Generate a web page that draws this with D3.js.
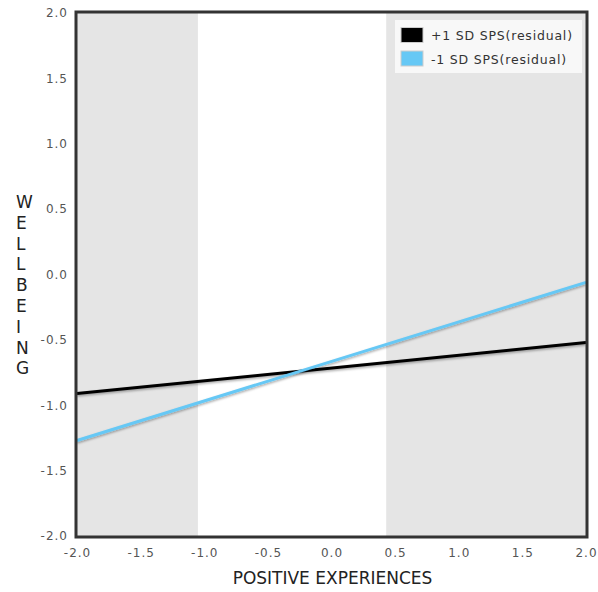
<!DOCTYPE html>
<html>
<head>
<meta charset="utf-8">
<script src="https://cdn.jsdelivr.net/npm/d3@7"></script>
<style>
  body { margin: 0; background: #fff; }
  svg { display: block; font-family: "DejaVu Sans", Verdana, sans-serif; }
</style>
</head>
<body>
<svg id="chart" width="598" height="592"></svg>
<script>
// Simple slopes of wellbeing on positive experiences at +/-1 SD of SPS
const xTicks = [-2.0, -1.5, -1.0, -0.5, 0.0, 0.5, 1.0, 1.5, 2.0];
const yTicks = [-2.0, -1.5, -1.0, -0.5, 0.0, 0.5, 1.0, 1.5, 2.0];
const seriesNames = ["+1 SD SPS(residual)", "-1 SD SPS(residual)"];
const seriesColors = ["#000000", "#66c8f5"];
const xEnds = [-2.0, 2.0];
const highSPS = [-0.91, -0.52];
const lowSPS = [-1.27, -0.06];
// Regions of significance (Johnson-Neyman)
const regions = [[-2.0, -1.05], [0.43, 2.0]];
const xTitle = "POSITIVE EXPERIENCES";
const yTitle = "WELLBEING";

const svg = d3.select("#chart");
const x = d3.scaleLinear().domain([-2, 2]).range([77, 586]);
const y = d3.scaleLinear().domain([-2, 2]).range([536, 13]);
// one decimal, plain hyphen for negatives
const fmt = d => d3.format(".1f")(d).replace("\u2212", "-");

const defs = svg.append("defs");
const f = defs.append("filter").attr("id", "shadow")
  .attr("x", "-5%").attr("y", "-50%").attr("width", "110%").attr("height", "200%");
f.append("feDropShadow").attr("dx", 0).attr("dy", 1.5).attr("stdDeviation", 1)
  .attr("flood-color", "#000").attr("flood-opacity", 0.35);

// shaded regions
svg.append("g").selectAll("rect").data(regions).join("rect")
  .attr("x", d => x(d[0]))
  .attr("width", d => x(d[1]) - x(d[0]))
  .attr("y", y(2))
  .attr("height", y(-2) - y(2))
  .attr("fill", "#e5e5e5");

// lines
const lineGen = d3.line().x(d => x(d[0])).y(d => y(d[1]));
const series = [highSPS, lowSPS];
svg.append("g").selectAll("path").data(series).join("path")
  .attr("d", d => lineGen(xEnds.map((xv, i) => [xv, d[i]])))
  .attr("fill", "none")
  .attr("stroke", (d, i) => seriesColors[i])
  .attr("stroke-width", 3)
  .attr("filter", "url(#shadow)");

// frame
svg.append("rect")
  .attr("x", x(-2) - 1).attr("y", y(2) - 1)
  .attr("width", x(2) - x(-2) + 2).attr("height", y(-2) - y(2) + 2)
  .attr("fill", "none").attr("stroke", "#333").attr("stroke-width", 3);

// axes (labels only)
const styleTicks = g => g.selectAll("text").attr("fill", "#555")
  .style("font-size", "12px")
  .style("font-family", "DejaVu Sans, Verdana, sans-serif")
  .style("letter-spacing", "1px");

const xAxis = d3.axisBottom(x).tickValues(xTicks).tickFormat(fmt).tickSize(0).tickPadding(12);
const gx = svg.append("g").attr("transform", `translate(0,${y(-2)})`).call(xAxis);
gx.select(".domain").remove();
styleTicks(gx);

const yAxis = d3.axisLeft(y).tickValues(yTicks).tickFormat(fmt).tickSize(0).tickPadding(9);
const gy = svg.append("g").attr("transform", `translate(${x(-2)},0)`).call(yAxis);
gy.select(".domain").remove();
styleTicks(gy);

// axis titles
svg.append("text")
  .attr("x", 332.5).attr("y", 584)
  .attr("text-anchor", "middle").attr("fill", "#222")
  .style("font-size", "17px")
  .text(xTitle);

svg.append("g").selectAll("text").data(yTitle.split("")).join("text")
  .attr("x", 16).attr("y", (d, i) => 208 + i * 20.8)
  .attr("fill", "#222")
  .style("font-size", "17px")
  .text(d => d);

// legend
const lg = svg.append("g");
lg.append("rect").attr("x", 395).attr("y", 20).attr("width", 187).attr("height", 53)
  .attr("fill", "#f8f8f8");
const items = lg.selectAll("g").data(seriesNames).join("g")
  .attr("transform", (d, i) => `translate(401,${27.5 + i * 23.5})`);
items.append("rect").attr("width", 22).attr("height", 15)
  .attr("fill", (d, i) => seriesColors[i])
  .attr("stroke", "#ccc").attr("stroke-width", 1);
items.append("text").attr("x", 30).attr("y", 12.5)
  .attr("fill", "#333").style("font-size", "12.5px")
  .style("letter-spacing", "0.8px")
  .text(d => d);
</script>
</body>
</html>
